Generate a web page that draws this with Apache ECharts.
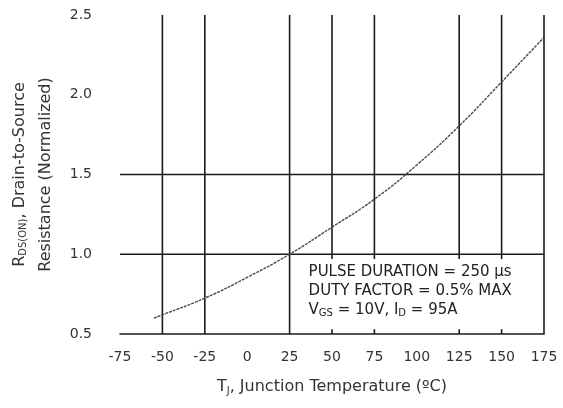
<!DOCTYPE html>
<html>
<head>
<meta charset="utf-8">
<script src="https://cdn.jsdelivr.net/npm/echarts@6/dist/echarts.min.js"></script>
<style>
  html, body { margin: 0; padding: 0; background: #fff; }
  #chart { width: 563px; height: 408px; }
</style>
</head>
<body>
<div id="chart"></div>
<script>
// curve
var temps = [-55, -50, -25, 0, 25, 50, 75, 100, 125, 150, 175];
var rdsNorm = [0.60, 0.62, 0.725, 0.855, 1.0, 1.17, 1.345, 1.56, 1.805, 2.08, 2.36];

// the grid lines the datasheet actually draws
var vLines = [-50, -25, 25, 50, 75, 125, 150, 175];
var hLines = [1.0, 1.5];

// note box (in data units), its edges are grid lines already
var boxX = [25, 175];
var boxY = [0.5, 1.0];
var noteLines = [
  'PULSE DURATION = 250 μs',
  'DUTY FACTOR = 0.5% MAX',
  'V{s|GS} = 10V, I{s|D} = 95A'
];

var FONT = 'DejaVu Sans, Liberation Sans, sans-serif';

// segments [x0, y0, x1, y1]
var segs = [];
vLines.forEach(function(x) {
  if (x > boxX[0] && x < boxX[1]) {
    // line stops at the box, leaves small stubs inside
    segs.push([x, 2.5, x, boxY[1] - 0.03]);
    segs.push([x, boxY[0], x, boxY[0] + 0.03]);
  } else {
    segs.push([x, 0.5, x, 2.5]);
  }
});
hLines.forEach(function(y) {
  segs.push([-75, y, 175, y]);
});

var subRich = { s: { fontSize: 10, fontFamily: FONT, padding: [8, 0, 0, 0] } };

var myChart = echarts.init(document.getElementById('chart'));

var option = {
  animation: false,
  textStyle: { fontFamily: FONT },
  grid: { left: 120, right: 19, top: 15, bottom: 74, outerBoundsMode: 'none', containLabel: false },
  xAxis: {
    type: 'value',
    min: -75, max: 175, interval: 25,
    name: 'T{s|J}, Junction Temperature (ºC)',
    nameLocation: 'middle',
    nameGap: 44,
    nameTextStyle: { color: '#333', fontSize: 16, fontFamily: FONT, rich: subRich },
    axisLine: { show: true, lineStyle: { color: '#1a1a1a', width: 1.6 } },
    axisTick: { show: false },
    splitLine: { show: false },
    axisLabel: { color: '#333', fontSize: 14, margin: 16 }
  },
  yAxis: {
    type: 'value',
    min: 0.5, max: 2.5, interval: 0.5,
    name: 'R{s|DS(ON)}, Drain-to-Source\nResistance (Normalized)',
    nameLocation: 'middle',
    nameRotate: 90,
    nameGap: 61,
    nameTextStyle: {
      color: '#333', fontSize: 16, lineHeight: 26, fontFamily: FONT,
      rich: { s: { fontSize: 10, lineHeight: 26, fontFamily: FONT, padding: [8, 0, 0, 0] } }
    },
    axisLine: { show: false },
    axisTick: { show: false },
    splitLine: { show: false },
    axisLabel: {
      color: '#333', fontSize: 14, margin: 28,
      formatter: function(v) { return v.toFixed(1); }
    }
  },
  series: [
    {
      type: 'custom',
      silent: true,
      z: 2,
      encode: { x: [0, 2], y: [1, 3] },
      data: segs,
      renderItem: function(params, api) {
        var p0 = api.coord([api.value(0), api.value(1)]);
        var p1 = api.coord([api.value(2), api.value(3)]);
        return {
          type: 'line',
          shape: { x1: p0[0], y1: p0[1], x2: p1[0], y2: p1[1] },
          style: { stroke: '#1a1a1a', lineWidth: 1.6 }
        };
      }
    },
    {
      type: 'line',
      data: temps.map(function(t, i) { return [t, rdsNorm[i]]; }),
      smooth: true,
      showSymbol: false,
      z: 10,
      lineStyle: { color: '#4a4a4a', width: 1.4, type: [3, 1] }
    }
  ]
};

myChart.setOption(option);

// note text placed inside the box
var corner = myChart.convertToPixel({ gridIndex: 0 }, [boxX[0], boxY[1]]);
myChart.setOption({
  graphic: [{
    type: 'text',
    left: corner[0] + 19,
    top: corner[1] + 8,
    z: 20,
    silent: true,
    style: {
      text: noteLines.join('\n'),
      fill: '#222',
      font: '15px ' + FONT,
      lineHeight: 19,
      rich: { s: { fontSize: 10, lineHeight: 19, fontFamily: FONT, padding: [7, 0, 0, 0] } }
    }
  }]
});
</script>
</body>
</html>
